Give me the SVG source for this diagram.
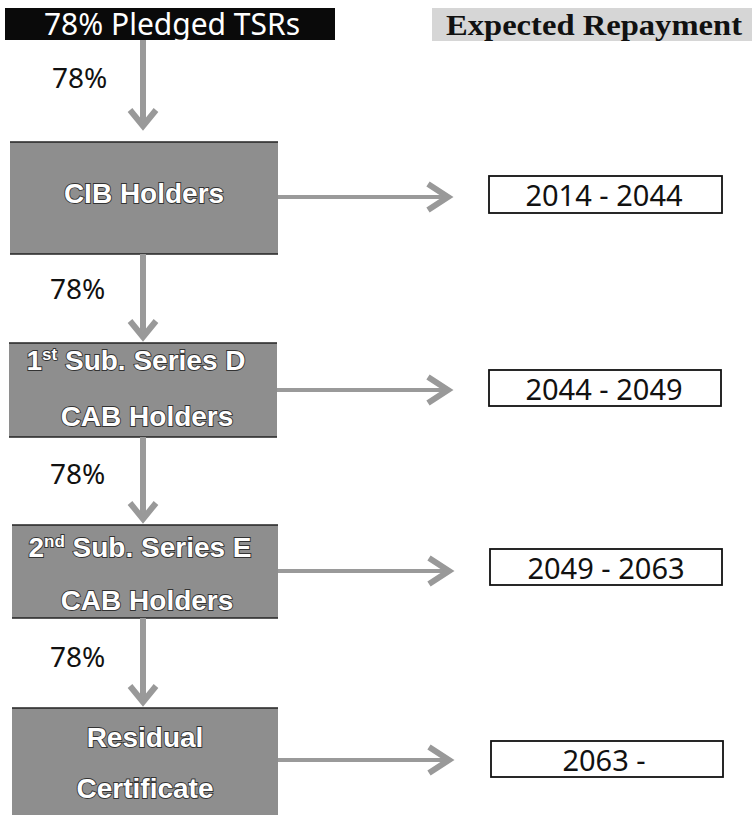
<svg xmlns="http://www.w3.org/2000/svg" width="755" height="815" viewBox="0 0 755 815">
<style>
.box{fill:#8e8e8e}
.edge{stroke:#222;stroke-width:1.5}
.bt{font-family:"Liberation Sans",Arial,sans-serif;font-weight:bold;font-size:28px;fill:#fff;stroke:#333;stroke-width:1.8;paint-order:stroke;text-anchor:middle}
.pct{font-family:"Noto Sans","Open Sans",sans-serif;font-size:28px;fill:#111}
.yr{fill:#fff;stroke:#111;stroke-width:1.8}
.yt{font-family:"Noto Sans","Open Sans",sans-serif;font-size:29px;fill:#111;text-anchor:middle}
.stem{stroke:#9a9a9a;stroke-width:6;fill:none}
.hstem{stroke:#9a9a9a;stroke-width:4;fill:none}
.head{stroke:#999;stroke-width:6;fill:none;stroke-linejoin:miter}
</style>
<rect width="755" height="815" fill="#fff"/>
<g id="header-tsr">
<rect x="5" y="8" width="330" height="32" fill="#0a0a0a"/>
<text x="172" y="35" font-family="'Noto Sans','Open Sans',sans-serif" font-size="30" fill="#fff" text-anchor="middle">78% Pledged TSRs</text>
</g>
<g id="header-repay">
<rect x="432" y="8" width="320" height="33" fill="#d6d6d6"/>
<text x="594" y="35" font-family="'Liberation Serif','Times New Roman',serif" font-size="30" font-weight="bold" fill="#111" text-anchor="middle" textLength="296" lengthAdjust="spacingAndGlyphs">Expected Repayment</text>
</g>
<g id="cib">
<rect class="box" x="10" y="142" width="268" height="112"/>
<line class="edge" x1="10" y1="142" x2="278" y2="142"/>
<line class="edge" x1="10" y1="254" x2="278" y2="254"/>
<text class="bt" x="144" y="203">CIB Holders</text>
</g>
<g id="series-d">
<rect class="box" x="9" y="343" width="268" height="94"/>
<line class="edge" x1="9" y1="343" x2="277" y2="343"/>
<line class="edge" x1="9" y1="437" x2="277" y2="437"/>
<text class="bt" x="136" y="370">1<tspan font-size="17" dy="-10">st</tspan><tspan dy="10"> Sub. Series D</tspan></text>
<text class="bt" x="147" y="426">CAB Holders</text>
</g>
<g id="series-e">
<rect class="box" x="12" y="525" width="266" height="93"/>
<line class="edge" x1="12" y1="525" x2="278" y2="525"/>
<line class="edge" x1="12" y1="618" x2="278" y2="618"/>
<text class="bt" x="140" y="557">2<tspan font-size="17" dy="-10">nd</tspan><tspan dy="10"> Sub. Series E</tspan></text>
<text class="bt" x="147" y="610">CAB Holders</text>
</g>
<g id="residual">
<rect class="box" x="12" y="708" width="266" height="107"/>
<line class="edge" x1="12" y1="708" x2="278" y2="708"/>
<text class="bt" x="145" y="747">Residual</text>
<text class="bt" x="145" y="798">Certificate</text>
</g>
<g id="y1"><rect class="yr" x="489" y="176" width="233" height="37"/><text class="yt" x="604" y="206">2014 - 2044</text></g>
<g id="y2"><rect class="yr" x="489" y="370" width="232" height="36"/><text class="yt" x="604" y="400">2044 - 2049</text></g>
<g id="y3"><rect class="yr" x="490" y="549" width="232" height="36"/><text class="yt" x="606" y="579">2049 - 2063</text></g>
<g id="y4"><rect class="yr" x="491" y="741" width="232" height="36"/><text class="yt" x="604" y="771">2063 -</text></g>
<g id="labels">
<text class="pct" x="52" y="88">78%</text>
<text class="pct" x="50" y="299">78%</text>
<text class="pct" x="50" y="484">78%</text>
<text class="pct" x="50" y="667">78%</text>
</g>
<g id="connectors">
<line class="stem" x1="143" y1="40" x2="143" y2="124"/>
<polyline class="head" points="130,110 143,126 156,110"/>
<line class="stem" x1="143" y1="254" x2="143" y2="336"/>
<polyline class="head" points="130,321 143,337 156,321"/>
<line class="stem" x1="143" y1="437" x2="143" y2="518"/>
<polyline class="head" points="130,503 143,519 156,503"/>
<line class="stem" x1="143" y1="618" x2="143" y2="700"/>
<polyline class="head" points="130,686 143,702 156,686"/>
<line class="hstem" x1="278" y1="197" x2="448" y2="197"/>
<polyline class="head" points="428,184 448,197 428,210"/>
<line class="hstem" x1="277" y1="390" x2="448" y2="390"/>
<polyline class="head" points="428,377 448,390 428,403"/>
<line class="hstem" x1="278" y1="571" x2="449" y2="571"/>
<polyline class="head" points="429,558 449,571 429,584"/>
<line class="hstem" x1="278" y1="760" x2="449" y2="760"/>
<polyline class="head" points="429,747 449,760 429,773"/>
</g>
</svg>
